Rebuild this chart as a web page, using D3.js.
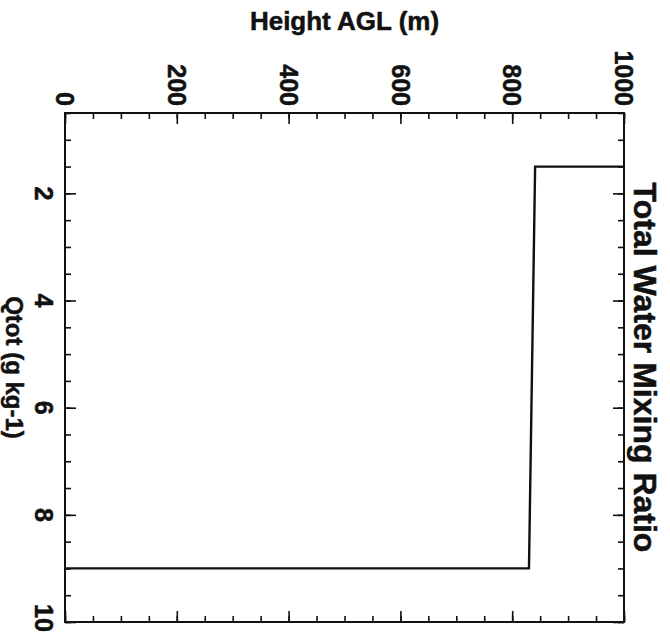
<!DOCTYPE html>
<html>
<head>
<meta charset="utf-8">
<script src="https://cdn.jsdelivr.net/npm/d3@7"></script>
<style>
  html, body { margin: 0; padding: 0; background: #fff; }
  svg { display: block; }
  text { font-family: "Liberation Sans", Arial, Helvetica, sans-serif; font-weight: bold; fill: #111; stroke: #111; stroke-width: 0.5px; }
</style>
</head>
<body>
<svg id="chart" width="670" height="634"></svg>
<script>
// ---- data ----
const heightAGL = [0, 830, 841, 1000];          // m
const qtot      = [9.0, 9.0, 1.5, 1.5];          // g kg-1
const heightTicks = [0, 200, 400, 600, 800, 1000];
const qtotTicks   = [2, 4, 6, 8, 10];
const heightMinor = d3.range(0, 1001, 50);
const qtotMinor   = d3.range(0.5, 10.01, 0.5);
const titleText = "Total Water Mixing Ratio";
const xTitle = "Height AGL (m)";
const yTitle = "Qtot (g kg-1)";

// ---- layout (chart drawn rotated 90° clockwise) ----
const W = 670, H = 634;
const L = 65, R = 624, T = 113, B = 622;
const svg = d3.select("#chart");
const x = d3.scaleLinear().domain([0, 1000]).range([L, R]);
const y = d3.scaleLinear().domain([0.5, 10]).range([T, B]);

const ink = "#111";
function styleAxis(g) {
  g.select(".domain").remove();
  g.selectAll("line").attr("stroke", ink).attr("stroke-width", 1.6);
  g.selectAll("text").remove();
}
// minor ticks
svg.append("g").attr("transform", `translate(0,${T})`)
  .call(d3.axisTop(x).tickValues(heightMinor).tickSize(-6).tickFormat("")).call(styleAxis);
svg.append("g").attr("transform", `translate(0,${B})`)
  .call(d3.axisBottom(x).tickValues(heightMinor).tickSize(-6).tickFormat("")).call(styleAxis);
svg.append("g").attr("transform", `translate(${L},0)`)
  .call(d3.axisLeft(y).tickValues(qtotMinor).tickSize(-6).tickFormat("")).call(styleAxis);
svg.append("g").attr("transform", `translate(${R},0)`)
  .call(d3.axisRight(y).tickValues(qtotMinor).tickSize(-6).tickFormat("")).call(styleAxis);
// major ticks
svg.append("g").attr("transform", `translate(0,${T})`)
  .call(d3.axisTop(x).tickValues(heightTicks).tickSize(-11).tickFormat("")).call(styleAxis);
svg.append("g").attr("transform", `translate(0,${B})`)
  .call(d3.axisBottom(x).tickValues(heightTicks).tickSize(-11).tickFormat("")).call(styleAxis);
svg.append("g").attr("transform", `translate(${L},0)`)
  .call(d3.axisLeft(y).tickValues(qtotTicks).tickSize(-11).tickFormat("")).call(styleAxis);
svg.append("g").attr("transform", `translate(${R},0)`)
  .call(d3.axisRight(y).tickValues(qtotTicks).tickSize(-11).tickFormat("")).call(styleAxis);

// frame
svg.append("rect").attr("x", L).attr("y", T).attr("width", R - L).attr("height", B - T)
  .attr("fill", "none").attr("stroke", ink).attr("stroke-width", 2);

// tick labels (rotated)
const labelSize = 25;
svg.append("g").selectAll("text").data(heightTicks).join("text")
  .attr("transform", d => `translate(${x(d)},${T - 7}) rotate(90)`)
  .attr("text-anchor", "end").attr("dy", "0.35em")
  .style("font-size", labelSize + "px")
  .text(d => d);
svg.append("g").selectAll("text").data(qtotTicks).join("text")
  .attr("transform", d => `translate(${L - 21},${Math.min(y(d), H - 16)}) rotate(90)`)
  .attr("text-anchor", "middle").attr("dy", "0.35em")
  .style("font-size", labelSize + "px")
  .text(d => d);

// axis titles
svg.append("text").attr("x", (L + R) / 2).attr("y", 30)
  .attr("text-anchor", "middle").style("font-size", "26px").text(xTitle);
svg.append("text").attr("transform", `translate(14,${(T + B) / 2}) rotate(90)`)
  .attr("text-anchor", "middle").attr("dy", "0.35em").style("font-size", "24px").text(yTitle);
svg.append("text").attr("transform", `translate(645,${(T + B) / 2}) rotate(90)`)
  .attr("text-anchor", "middle").attr("dy", "0.35em").style("font-size", "32px").text(titleText);

// profile line
const line = d3.line().x((d, i) => x(heightAGL[i])).y((d, i) => y(qtot[i]));
svg.append("path").datum(qtot).attr("d", line)
  .attr("fill", "none").attr("stroke", ink).attr("stroke-width", 2.4);
</script>
</body>
</html>
